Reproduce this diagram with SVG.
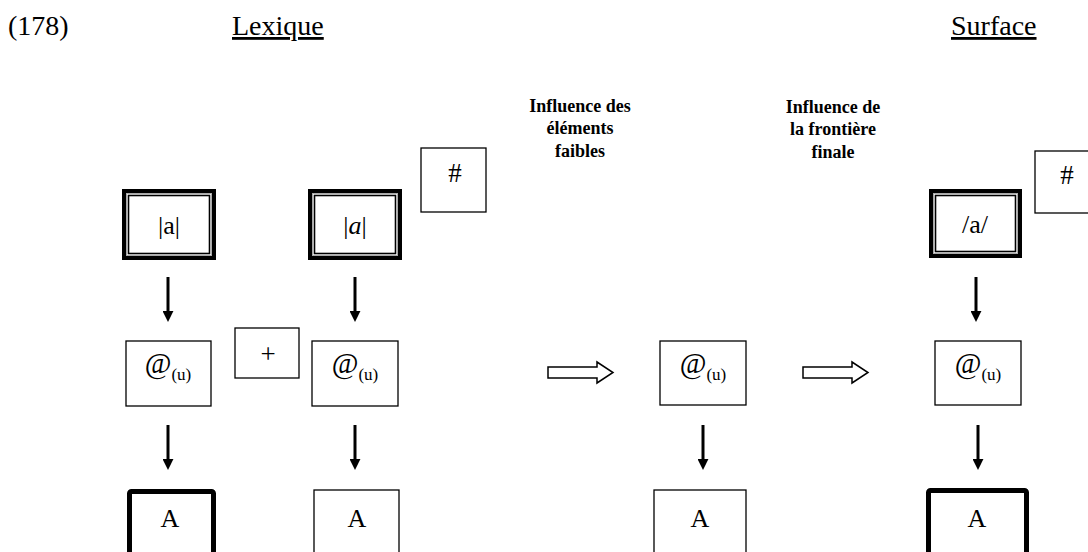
<svg xmlns="http://www.w3.org/2000/svg" width="1088" height="552" viewBox="0 0 1088 552">
<style>
text{font-family:"Liberation Serif","Times New Roman",serif;fill:#000}
.title{font-size:28px;text-decoration:underline}
.num{font-size:28px}
.lbl{font-size:18px;font-weight:bold;text-anchor:middle}
.t{font-size:26px;text-anchor:middle}
.h{font-size:27px;text-anchor:middle}
.c{text-anchor:middle}
.at{font-size:29px}
.sub{font-size:17px}
.thin{fill:#fff;stroke:#000;stroke-width:1.3}
.dbo{fill:#fff;stroke:#000;stroke-width:4}
.dbg{fill:none;stroke:#aaa;stroke-width:1}
.dbi{fill:none;stroke:#000;stroke-width:1.6}
.thick{fill:#fff;stroke:#000;stroke-width:5}
.arr{stroke:#000;stroke-width:3;fill:none}
.hol{fill:#fff;stroke:#000;stroke-width:1.5}
</style>
<defs>
<marker id="ah" viewBox="0 0 10 10" markerWidth="11" markerHeight="11" refX="1" refY="5" orient="auto" markerUnits="userSpaceOnUse">
<path d="M0,0 L10,5 L0,10 Z" fill="#000"/>
</marker>
</defs>
<rect width="1088" height="552" fill="#fff"/>
<text class="num" x="8" y="35">(178)</text>
<text class="title" x="232" y="35">Lexique</text>
<text class="title" x="951" y="35">Surface</text>
<g id="lbl1">
<text class="lbl" x="580" y="112">Influence des</text>
<text class="lbl" x="580" y="134">éléments</text>
<text class="lbl" x="580" y="157">faibles</text>
</g>
<g id="lbl2">
<text class="lbl" x="833" y="113">Influence de</text>
<text class="lbl" x="833" y="135">la frontière</text>
<text class="lbl" x="833" y="158">finale</text>
</g>
<g id="n1">
<rect class="dbo" x="124" y="191" width="90" height="67"/>
<rect class="dbg" x="126.5" y="193.5" width="85" height="62"/>
<rect class="dbi" x="128.5" y="195.5" width="81" height="58"/>
<text class="t" x="169" y="234">|a|</text>
</g>
<g id="n2">
<rect class="dbo" x="310" y="191" width="90" height="67"/>
<rect class="dbg" x="312.5" y="193.5" width="85" height="62"/>
<rect class="dbi" x="314.5" y="195.5" width="81" height="58"/>
<text class="t" x="355" y="234">|<tspan font-style="italic">a</tspan>|</text>
</g>
<g id="hash1">
<rect class="thin" x="421" y="148" width="65" height="64"/>
<text class="h" x="455" y="182">#</text>
</g>
<g id="n3">
<rect class="thin" x="126" y="341" width="85" height="65"/>
<text class="c" x="168" y="373"><tspan class="at">@</tspan><tspan class="sub" dy="7">(u)</tspan></text>
</g>
<g id="plus">
<rect class="thin" x="235" y="328" width="64" height="50"/>
<text class="h" x="268" y="363">+</text>
</g>
<g id="n4">
<rect class="thin" x="312" y="341" width="86" height="65"/>
<text class="c" x="355" y="373"><tspan class="at">@</tspan><tspan class="sub" dy="7">(u)</tspan></text>
</g>
<g id="n5">
<rect class="thick" x="129.5" y="491.5" width="84" height="70" rx="2"/>
<text class="t" x="170" y="527">A</text>
</g>
<g id="n6">
<rect class="thin" x="314" y="490" width="85" height="70"/>
<text class="t" x="357" y="527">A</text>
</g>
<g id="n7">
<rect class="thin" x="660" y="341" width="86" height="64"/>
<text class="c" x="703" y="373"><tspan class="at">@</tspan><tspan class="sub" dy="7">(u)</tspan></text>
</g>
<g id="n8">
<rect class="thin" x="654" y="490" width="92" height="70"/>
<text class="t" x="700" y="527">A</text>
</g>
<g id="n9">
<rect class="dbo" x="931" y="191" width="89" height="65"/>
<rect class="dbg" x="933.5" y="193.5" width="84" height="60"/>
<rect class="dbi" x="935.5" y="195.5" width="80" height="56"/>
<text class="t" x="975" y="233">/a/</text>
</g>
<g id="hash2">
<rect class="thin" x="1035" y="151" width="60" height="62"/>
<text class="h" x="1067" y="184">#</text>
</g>
<g id="n10">
<rect class="thin" x="935" y="341" width="86" height="64"/>
<text class="c" x="978" y="373"><tspan class="at">@</tspan><tspan class="sub" dy="7">(u)</tspan></text>
</g>
<g id="n11">
<rect class="thick" x="928.5" y="490.5" width="98" height="70" rx="2"/>
<text class="t" x="977" y="527">A</text>
</g>
<g id="connectors">
<line class="arr" x1="168" y1="277" x2="168" y2="312" marker-end="url(#ah)"/>
<line class="arr" x1="355" y1="277" x2="355" y2="312" marker-end="url(#ah)"/>
<line class="arr" x1="976" y1="277" x2="976" y2="312" marker-end="url(#ah)"/>
<line class="arr" x1="168" y1="425" x2="168" y2="460" marker-end="url(#ah)"/>
<line class="arr" x1="355" y1="425" x2="355" y2="460" marker-end="url(#ah)"/>
<line class="arr" x1="703" y1="425" x2="703" y2="460" marker-end="url(#ah)"/>
<line class="arr" x1="978" y1="425" x2="978" y2="460" marker-end="url(#ah)"/>
<path class="hol" d="M548,367 L597,367 L597,362 L613,372.5 L597,383 L597,378 L548,378 Z"/>
<path class="hol" d="M803,367 L852,367 L852,362 L868,372.5 L852,383 L852,378 L803,378 Z"/>
</g>
</svg>
